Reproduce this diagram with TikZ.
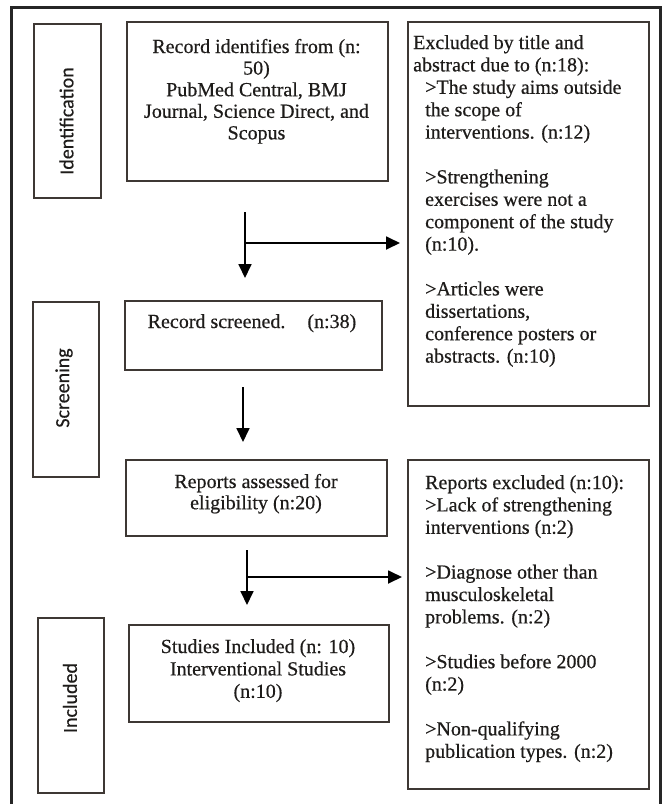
\documentclass[tikz,border=0pt]{standalone}
\usepackage{fontspec}
\setmainfont{Liberation Serif}[FakeBold=0.5]
\newfontfamily\sidefont{Carlito}[FakeBold=0.4]
\usetikzlibrary{arrows.meta}
\definecolor{boxcol}{RGB}{62,56,52}
\definecolor{txtcol}{RGB}{30,28,26}
\newcommand{\tleft}[1]{\begin{tabular}[t]{@{}l@{}}#1\end{tabular}}
\newcommand{\tcent}[1]{\begin{tabular}[t]{@{}c@{}}#1\end{tabular}}
\newcommand{\ind}{\hspace*{12pt}}
\begin{document}
\begin{tikzpicture}[x=1pt,y=-1pt,
  box/.style={draw=boxcol, line width=1.8pt, inner sep=0pt, anchor=north west, rectangle},
  txt/.style={inner sep=0pt, text=txtcol, font=\fontsize{20}{22.4}\selectfont},
  side/.style={inner sep=0pt, text=txtcol, font=\sidefont\fontsize{20}{24}\selectfont, rotate=90},
  arr/.style={draw=black, line width=1.8pt, -{Triangle[width=13pt,length=14pt]}}]
\useasboundingbox (0,0) rectangle (669,804);
\fill[white] (0,0) rectangle (669,804);
% outer frame
\draw[line width=3pt, draw=black!85] (11,815) -- (11,7) -- (660,7) -- (660,815);

% boxes
\node[box, minimum width=67pt, minimum height=174pt] (ident) at (33,23) {};
\node[box, minimum width=261pt, minimum height=159pt] (rec) at (126,21) {};
\node[box, minimum width=241pt, minimum height=384pt] (excl1) at (407,21) {};
\node[box, minimum width=66pt, minimum height=175pt] (scrlab) at (32,301) {};
\node[box, minimum width=257pt, minimum height=69pt] (scr) at (124,300) {};
\node[box, minimum width=261pt, minimum height=76pt] (rep) at (125,459) {};
\node[box, minimum width=241pt, minimum height=329pt] (excl2) at (407,459) {};
\node[box, minimum width=66pt, minimum height=175pt] (inclab) at (37,617) {};
\node[box, minimum width=260pt, minimum height=97pt] (stud) at (128,624) {};

% side labels
\node[side] (identt) at (66.5,121) {Identification};
\node[side] (scrlabt) at (64,388) {Screening};
\node[side] (inclabt) at (70,698) {Included};

% texts
\node[txt, anchor=base, font=\fontsize{20}{21.6}\selectfont] (rect) at (256.5,53)
  {\tcent{Record identifies from (n:\\50)\\PubMed Central, BMJ\\Journal, Science Direct, and\\Scopus}};
\node[txt, anchor=base west] (excl1t) at (413,49)
  {\tleft{Excluded by title and\\abstract due to (n:18):\\
  \ind>The study aims outside\\\ind the scope of\\\ind interventions. (n:12)\\ \\
  \ind>Strengthening\\\ind exercises were not a\\\ind component of the study\\\ind (n:10).\\ \\
  \ind>Articles were\\\ind dissertations,\\\ind conference posters or\\\ind abstracts. (n:10)}};
\node[txt, anchor=base] (scrt) at (252,328) {Record screened.\hspace{22pt}(n:38)};
\node[txt, anchor=base, font=\fontsize{20}{21.2}\selectfont] (rept) at (256,488)
  {\tcent{Reports assessed for\\eligibility (n:20)}};
\node[txt, anchor=base west] (excl2t) at (425,489)
  {\tleft{Reports excluded (n:10):\\>Lack of strengthening\\interventions (n:2)\\ \\
  >Diagnose other than\\musculoskeletal\\problems. (n:2)\\ \\
  >Studies before 2000\\(n:2)\\ \\
  >Non-qualifying\\publication types. (n:2)}};
\node[txt, anchor=base] (studt) at (258,653)
  {\tcent{Studies Included (n: 10)\\Interventional Studies\\(n:10)}};

% connectors
\coordinate (a1s) at (245,212);
\coordinate (a1m) at (245,243);
\draw[arr, shorten >=22pt] (a1s) -- (a1s |- scr.north);
\draw[arr, shorten >=7pt] (a1m) -- (a1m -| excl1.west);
\coordinate (a2s) at (243,387);
\draw[arr, shorten >=17pt] (a2s) -- (a2s |- rep.north);
\coordinate (a3s) at (247,550);
\coordinate (a3m) at (247,577);
\draw[arr, shorten >=19pt] (a3s) -- (a3s |- stud.north);
\draw[arr, shorten >=5pt] (a3m) -- (a3m -| excl2.west);
\end{tikzpicture}
\end{document}
